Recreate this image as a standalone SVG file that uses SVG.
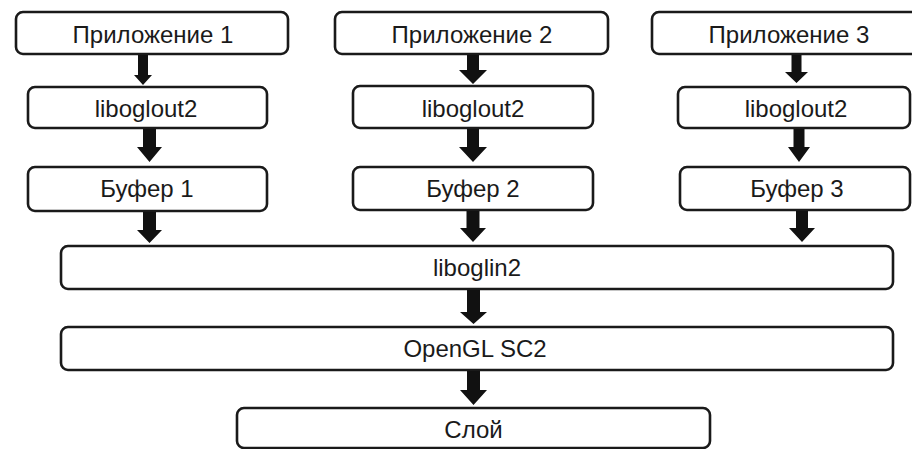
<svg xmlns="http://www.w3.org/2000/svg" width="912" height="449" viewBox="0 0 912 449">
<style>
.box{fill:#fff;stroke:#1a1a1a;stroke-width:2.6}
.lbl{font-family:"Liberation Sans",Arial,sans-serif;font-size:24px;fill:#1a1a1a;text-anchor:middle}
.arr{fill:#111}
</style>
<rect x="0" y="0" width="912" height="449" fill="#fff"/>
<g id="app1"><rect class="box" x="16" y="12" width="272" height="42" rx="7"/><text class="lbl" x="153" y="43">Приложение 1</text></g>
<g id="lo1"><rect class="box" x="28" y="87" width="239" height="41" rx="7"/><text class="lbl" x="146" y="117">liboglout2</text></g>
<g id="buf1"><rect class="box" x="28" y="167" width="239" height="44" rx="7"/><text class="lbl" x="147" y="197">Буфер 1</text></g>
<g id="app2"><rect class="box" x="335" y="12" width="273" height="42" rx="7"/><text class="lbl" x="472" y="43">Приложение 2</text></g>
<g id="lo2"><rect class="box" x="353" y="86" width="240" height="42" rx="7"/><text class="lbl" x="473" y="117">liboglout2</text></g>
<g id="buf2"><rect class="box" x="353" y="167" width="240" height="43" rx="7"/><text class="lbl" x="473" y="197">Буфер 2</text></g>
<g id="app3"><rect class="box" x="652" y="12" width="274" height="42" rx="7"/><text class="lbl" x="789" y="43">Приложение 3</text></g>
<g id="lo3"><rect class="box" x="678" y="87" width="232" height="41" rx="7"/><text class="lbl" x="796" y="117">liboglout2</text></g>
<g id="buf3"><rect class="box" x="680" y="167" width="230" height="43" rx="7"/><text class="lbl" x="797" y="197">Буфер 3</text></g>
<g id="liboglin2"><rect class="box" x="61" y="246" width="832" height="43" rx="7"/><text class="lbl" x="477" y="276">liboglin2</text></g>
<g id="opengl"><rect class="box" x="61" y="327" width="832" height="43" rx="7"/><text class="lbl" x="475" y="357">OpenGL SC2</text></g>
<g id="sloy"><rect class="box" x="237" y="408" width="473" height="40" rx="7"/><text class="lbl" x="473.5" y="438">Слой</text></g>
<g id="connectors">
<polygon class="arr" points="138,55 148,55 148,75 152,75 143,85 134,75 138,75"/>
<polygon class="arr" points="143,129 156,129 156,147 162,147 149.5,162 137,147 143,147"/>
<polygon class="arr" points="143,212 156,212 156,230 162,230 149.5,243 137,230 143,230"/>
<polygon class="arr" points="467,55 479,55 479,70 487,70 473,84 459,70 467,70"/>
<polygon class="arr" points="467,129 479,129 479,147 487,147 473,162 459,147 467,147"/>
<polygon class="arr" points="466.5,211 479.5,211 479.5,228 486,228 473,242 460,228 466.5,228"/>
<polygon class="arr" points="791.5,55 801.5,55 801.5,72 808,72 796.5,83 785,72 791.5,72"/>
<polygon class="arr" points="793.5,129 804.5,129 804.5,147 810,147 799,162 788,147 793.5,147"/>
<polygon class="arr" points="796,211 808,211 808,228 815,228 802,242 789,228 796,228"/>
<polygon class="arr" points="467,290 480,290 480,312 487,312 473.5,324 460,312 467,312"/>
<polygon class="arr" points="467,371 480,371 480,390 487,390 473.5,405 460,390 467,390"/>
</g>
</svg>
